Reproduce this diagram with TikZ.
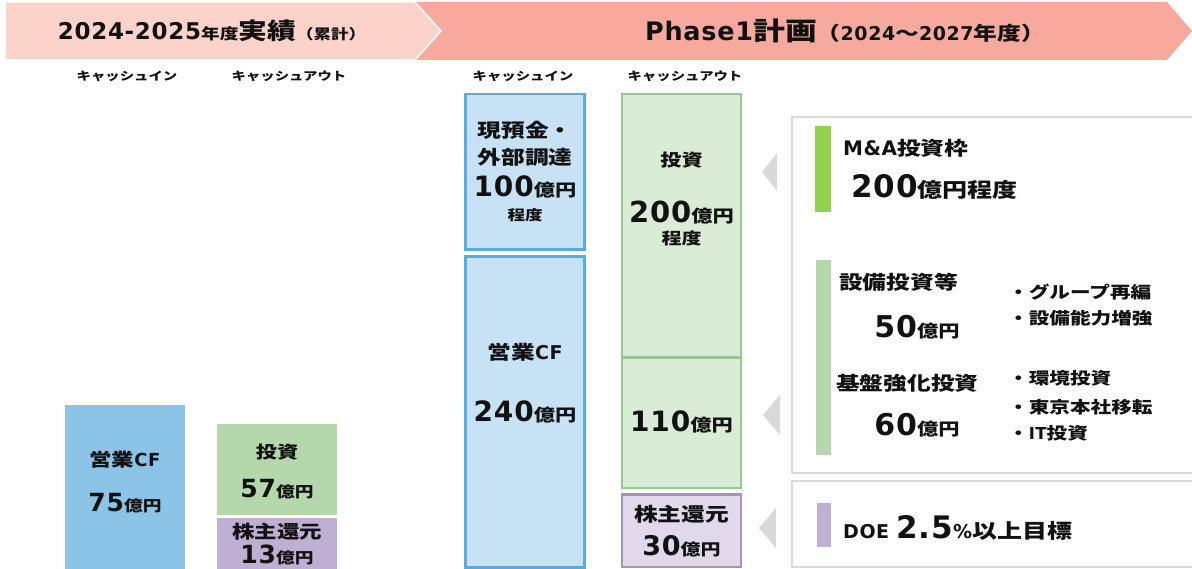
\documentclass[tikz,border=0pt]{standalone}
\usepackage{fontspec}
\newfontfamily\jpf{Noto Sans CJK JP}[FakeStretch=1.25]
\newfontfamily\latf{DejaVu Sans}[LetterSpace=3]
\newcommand\jtx[2]{{\jpf\bfseries\fontsize{#1}{#1}\selectfont #2}}
\newcommand\ltx[2]{{\latf\bfseries\fontsize{#1}{#1}\selectfont #2}}
\definecolor{hdrlight}{HTML}{FCD3CB}
\definecolor{hdrdark}{HTML}{F8A99D}
\definecolor{lblue}{HTML}{8BC4E7}
\definecolor{lgreen}{HTML}{B5D7AC}
\definecolor{lpurple}{HTML}{BFAFD2}
\definecolor{pblue}{HTML}{C6E2F4}
\definecolor{pblueb}{HTML}{5BABDD}
\definecolor{pgreen}{HTML}{DAEBD6}
\definecolor{pgreenb}{HTML}{97CB8D}
\definecolor{ppurple}{HTML}{E1D8EC}
\definecolor{ppurpleb}{HTML}{A591C4}
\definecolor{tgray}{HTML}{D9D9D9}
\definecolor{pgray}{HTML}{DADADA}
\definecolor{brgreen}{HTML}{92D050}
\definecolor{txt}{HTML}{111111}
\begin{document}
\begin{tikzpicture}[x=1pt,y=-1pt,
  tx/.style={inner sep=0pt, text=txt},
  lbox/.style={inner sep=0pt, minimum width=120pt},
  pbox/.style={draw, line width=2.5pt, inner sep=0pt, minimum width=119pt},
  panel/.style={draw=pgray, line width=1.5pt, fill=white, inner sep=0pt, minimum width=418pt},
  bar/.style={inner sep=0pt}]
\useasboundingbox (0,0) rectangle (1192,569);
% header chevrons
\fill[hdrdark] (415,2) -- (1167,2) -- (1192,31) -- (1167,60) -- (415,60) -- cycle;
\filldraw[fill=hdrlight, draw=white, line width=1.5pt] (5,2) -- (415,2) -- (441,31) -- (415,60) -- (5,60) -- cycle;
\node[tx] (t1) at (212,31) {\ltx{23}{2024-2025}\jtx{15}{年度}\jtx{23}{実績}\jtx{14}{（累計）}};
\node[tx] (t2) at (845,31) {\ltx{25.5}{Phase1}\jtx{25.5}{計画}\jtx{19}{（}\ltx{19}{2024}\jtx{19}{～}\ltx{19}{2027}\jtx{19}{年度）}};
% sub headers
\node[tx] (h1) at (127,76) {\jtx{11.5}{キャッシュイン}};
\node[tx] (h2) at (289,76) {\jtx{11.5}{キャッシュアウト}};
\node[tx] (h3) at (523,76) {\jtx{11.5}{キャッシュイン}};
\node[tx] (h4) at (685,76) {\jtx{11.5}{キャッシュアウト}};
% left boxes
\node[lbox, fill=lblue, minimum height=164pt] (lcf) at (125,487) {};
\node[lbox, fill=lgreen, minimum height=91pt] (linv) at (277,469.5) {};
\node[lbox, fill=lpurple, minimum height=51pt] (lsh) at (277,543.5) {};
\node[tx] (lcf1) at (125,460) {\jtx{18}{営業}\ltx{18}{CF}};
\node[tx] (lcf2) at (125,503) {\ltx{25}{75}\jtx{15}{億円}};
\node[tx] (linv1) at (277,452) {\jtx{17}{投資}};
\node[tx] (linv2) at (277,489) {\ltx{25}{57}\jtx{15}{億円}};
\node[tx] (lsh1) at (277,532) {\jtx{18}{株主還元}};
\node[tx] (lsh2) at (277,555) {\ltx{25}{13}\jtx{15}{億円}};
% phase1 boxes
\node[pbox, draw=pblueb, fill=pblue, minimum height=155.5pt] (cash) at (525,172) {};
\node[pbox, draw=pblueb, fill=pblue, minimum height=311pt] (cf) at (525,412) {};
\node[pbox, draw=pgreenb, fill=pgreen, minimum height=130pt] (inv2) at (681.5,422.75) {};
\node[pbox, draw=pgreenb, fill=pgreen, minimum height=263.5pt] (inv) at (681.5,226) {};
\node[pbox, draw=ppurpleb, fill=ppurple, minimum height=72.5pt] (sh) at (681.5,530.5) {};
\node[tx] (cash1) at (525,130) {\jtx{19}{現預金・}};
\node[tx] (cash2) at (525,157) {\jtx{19}{外部調達}};
\node[tx] (cash3) at (525,187) {\ltx{28}{100}\jtx{17}{億円}};
\node[tx] (cash4) at (525,215) {\jtx{14}{程度}};
\node[tx] (cf1) at (525,352) {\jtx{19}{営業}\ltx{19}{CF}};
\node[tx] (cf2) at (525,412) {\ltx{28}{240}\jtx{17}{億円}};
\node[tx] (inv1) at (681.5,160) {\jtx{17}{投資}};
\node[tx] (inv3) at (681.5,213) {\ltx{29}{200}\jtx{17}{億円}};
\node[tx] (inv4) at (681.5,238) {\jtx{16}{程度}};
\node[tx] (inv5) at (681.5,422) {\ltx{28}{110}\jtx{17}{億円}};
\node[tx] (sh1) at (681.5,514) {\jtx{19}{株主還元}};
\node[tx] (sh2) at (681.5,546) {\ltx{27}{30}\jtx{16}{億円}};
% triangles
\fill[tgray] (762,172) -- (777,153) -- (777,191) -- cycle;
\fill[tgray] (763,415) -- (780,395) -- (780,435) -- cycle;
\fill[tgray] (759,528) -- (776,508) -- (776,548) -- cycle;
% panels
\node[panel, minimum height=356pt] (pan1) at (1001,295) {};
\node[panel, minimum height=86pt] (pan2) at (1001,524) {};
\node[bar, fill=brgreen, minimum width=16pt, minimum height=86pt] (bar1) at (823,169) {};
\node[bar, fill=lgreen, minimum width=15pt, minimum height=195pt] (bar2) at (823,357.5) {};
\node[bar, fill=lpurple, minimum width=14pt, minimum height=44pt] (bar3) at (823.5,525) {};
\node[tx, anchor=west] (ma1) at (843,148) {\ltx{20}{M\&A}\jtx{19}{投資枠}};
\node[tx, anchor=west] (ma2) at (851,187) {\ltx{31}{200}\jtx{20}{億円程度}};
\node[tx, anchor=west] (eq1) at (839,282) {\jtx{19}{設備投資等}};
\node[tx] (eq2) at (917,327) {\ltx{30}{50}\jtx{17}{億円}};
\node[tx, anchor=west] (eq3) at (1008,292) {\jtx{16.5}{・グループ再編}};
\node[tx, anchor=west] (eq4) at (1008,318) {\jtx{16.5}{・設備能力増強}};
\node[tx, anchor=west] (bs1) at (836,383) {\jtx{19}{基盤強化投資}};
\node[tx] (bs2) at (917,425) {\ltx{30}{60}\jtx{17}{億円}};
\node[tx, anchor=west] (bs3) at (1008,378) {\jtx{16.5}{・環境投資}};
\node[tx, anchor=west] (bs4) at (1008,407) {\jtx{16.5}{・東京本社移転}};
\node[tx, anchor=west] (bs5) at (1008,433) {\jtx{16.5}{・}\ltx{16.5}{IT}\jtx{16.5}{投資}};
\node[tx, anchor=west] (doe) at (843,528) {\ltx{19}{DOE }\ltx{31}{2.5}\ltx{19}{\%}\jtx{20}{以上目標}};
\end{tikzpicture}
\end{document}
